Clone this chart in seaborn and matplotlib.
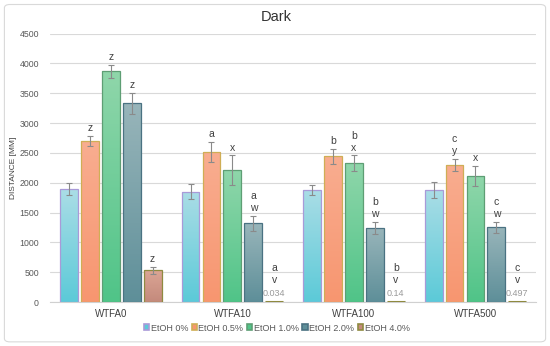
import numpy as np
import pandas as pd
import seaborn as sns
import matplotlib.pyplot as plt
from matplotlib.colors import LinearSegmentedColormap
from matplotlib.patches import FancyBboxPatch, Patch

# %% data

groups = ["WTFA0", "WTFA10", "WTFA100", "WTFA500"]
concs = ["EtOH 0%", "EtOH 0.5%", "EtOH 1.0%", "EtOH 2.0%", "EtOH 4.0%"]

etoh_0 = [1890, 1850, 1880, 1880]
etoh_05 = [2700, 2510, 2440, 2300]
etoh_10 = [3870, 2210, 2330, 2110]
etoh_20 = [3330, 1320, 1240, 1250]
etoh_40 = [530, 0.034, 0.14, 0.497]

err_0 = [100, 130, 80, 140]
err_05 = [90, 170, 130, 100]
err_10 = [110, 250, 130, 170]
err_20 = [180, 130, 100, 100]
err_40 = [60, 0, 0, 0]

letters_0 = ["", "", "", ""]
letters_05 = ["z", "a", "b", "c\ny"]
letters_10 = ["z", "x", "b\nx", "x"]
letters_20 = ["z", "a\nw", "b\nw", "c\nw"]
letters_40 = ["z", "a\nv", "b\nv", "c\nv"]
small_values = ["", "0.034", "0.14", "0.497"]

values = [etoh_0, etoh_05, etoh_10, etoh_20, etoh_40]
errors = [err_0, err_05, err_10, err_20, err_40]
letters = [letters_0, letters_05, letters_10, letters_20, letters_40]

df = pd.DataFrame({
    "group": np.tile(groups, len(concs)),
    "conc": np.repeat(concs, len(groups)),
    "distance": np.concatenate(values),
})

# top / bottom of each gradient, and the outline
tops = ["#aadde6", "#f9ad90", "#8fd6aa", "#98b5ba", "#dba595"]
bottoms = ["#5ccad8", "#f79670", "#50c488", "#5e8f99", "#c48a7c"]
edges = ["#a99ad8", "#cfae55", "#5e9e74", "#4a7282", "#8f8a40"]

# %%

sns.set_style("white")
plt.rcParams["font.family"] = ["Liberation Sans", "DejaVu Sans"]

fig = plt.figure(figsize=(5.5, 3.46), dpi=100)
ax = fig.add_axes([0.091, 0.127, 0.884, 0.776])

sns.barplot(data=df, x="group", y="distance", hue="conc", order=groups,
            hue_order=concs, palette=bottoms, width=0.86, gap=0.15,
            errorbar=None, legend=False, ax=ax, zorder=3)

ax.set_ylim(0, 4500)
ax.set_xlim(-0.5, 3.5)

bar_conts = list(ax.containers)
for i, cont in enumerate(bar_conts):
    cmap = LinearSegmentedColormap.from_list("g%d" % i, [bottoms[i], tops[i]])
    for j, bar in enumerate(cont):
        bar.set_edgecolor(edges[i])
        bar.set_linewidth(0.9)
        x0, w, h = bar.get_x(), bar.get_width(), bar.get_height()
        cx = x0 + w / 2
        if h > 1:
            grad = np.linspace(0, 1, 100).reshape(-1, 1)
            im = ax.imshow(grad, extent=[x0, x0 + w, 0, h], origin="lower",
                           aspect="auto", cmap=cmap, zorder=3.1)
            im.set_clip_path(bar)
            bar.set_facecolor("none")
            bar.set_zorder(3.2)
        else:
            ax.plot([x0, x0 + w], [0, 0], color=edges[i], lw=2.2,
                    zorder=3.5, solid_capstyle="butt")
        e = errors[i][j]
        if e > 0:
            ax.errorbar(cx, h, yerr=e, fmt="none", ecolor="#8a8a8a",
                        elinewidth=0.8, capsize=2, capthick=0.8, zorder=4)
        top = h + e
        off = 2
        if small_values[j] and i == 4 and h < 1:
            ax.annotate(small_values[j], (cx, 0), xytext=(0, 3),
                        textcoords="offset points", ha="center",
                        va="bottom", fontsize=6.5, color="#9a9a9a")
            off = 12
        if letters[i][j]:
            ax.annotate(letters[i][j], (cx, top), xytext=(0, off),
                        textcoords="offset points", ha="center",
                        va="bottom", fontsize=7.5, color="#404040",
                        linespacing=1.25)

ax.set_xlim(-0.5, 3.5)
ax.set_ylim(0, 4500)
ax.set_yticks(np.arange(0, 4501, 500))
ax.yaxis.grid(True, color="#d9d9d9", lw=0.8, zorder=0)
ax.set_axisbelow(True)
for s in ["top", "right", "left"]:
    ax.spines[s].set_visible(False)
ax.spines["bottom"].set_color("#d0d0d0")
ax.tick_params(axis="y", labelsize=6.3, colors="#595959", length=0, pad=8)
ax.tick_params(axis="x", labelsize=7, colors="#404040", length=0, pad=5)
ax.set_xlabel("")
ax.set_ylabel("DISTANCE [MM]", fontsize=6, color="#404040", labelpad=2)
fig.suptitle("Dark", x=0.503, y=0.972, va="top", fontsize=10.5,
             color="#333333")

handles = [Patch(facecolor=bottoms[i], edgecolor=edges[i], lw=1.2,
                 label=concs[i]) for i in range(len(concs))]
fig.legend(handles=handles, loc="center", bbox_to_anchor=(0.503, 0.052),
           ncol=5, frameon=False, fontsize=6.5, handlelength=0.6,
           handleheight=0.6, handletextpad=0.15, columnspacing=0.4,
           labelcolor="#595959")

fig.patches.append(FancyBboxPatch((0.008, 0.012), 0.984, 0.975,
                                  boxstyle="round,pad=0,rounding_size=0.01",
                                  transform=fig.transFigure, fill=False,
                                  edgecolor="#d9d9d9", lw=0.8))

plt.savefig("out.png", dpi=100)
